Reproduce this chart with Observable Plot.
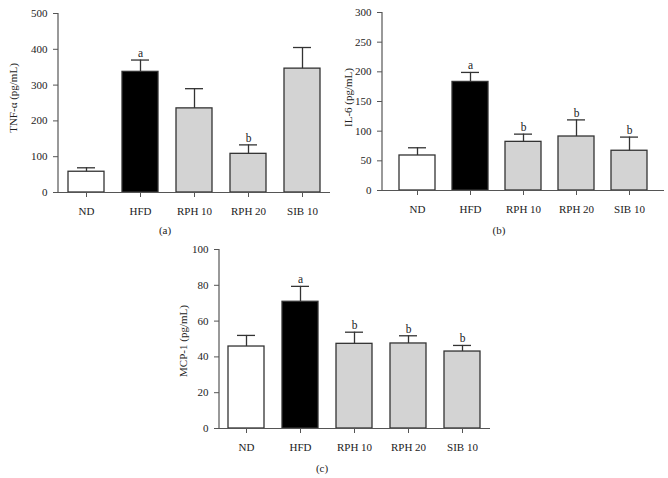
<!DOCTYPE html>
<html>
<head>
<meta charset="utf-8">
<script src="https://cdn.jsdelivr.net/npm/d3@7"></script>
<script src="https://cdn.jsdelivr.net/npm/@observablehq/plot@0.6"></script>
<style>
  body { margin: 0; background: #fff; }
  #wrap { position: relative; width: 668px; height: 478px; font-family: "Liberation Serif", "DejaVu Serif", serif; }
  .panel { position: absolute; }
  .cap { position: absolute; font-size: 11px; color: #222; transform: translate(-50%, -50%); white-space: nowrap; }
</style>
</head>
<body>
<div id="wrap"></div>
<script>
const categories = ["ND", "HFD", "RPH 10", "RPH 20", "SIB 10"];
const barColors = ["#ffffff", "#000000", "#d3d3d3", "#d3d3d3", "#d3d3d3"];

const tnfMean = [58, 337, 235, 108, 346];
const tnfSem = [11, 33, 55, 25, 59];
const tnfLetters = ["", "a", "", "b", ""];
const tnfTicks = [0, 100, 200, 300, 400, 500];

const il6Mean = [59, 183, 82, 91, 67];
const il6Sem = [13, 16, 13, 28, 23];
const il6Letters = ["", "a", "b", "b", "b"];
const il6Ticks = [0, 50, 100, 150, 200, 250, 300];

const mcpMean = [45.8, 70.8, 47.3, 47.5, 43.0];
const mcpSem = [6.2, 8.6, 6.5, 4.3, 3.4];
const mcpLetters = ["", "a", "b", "b", "b"];
const mcpTicks = [0, 20, 40, 60, 80, 100];

const ink = "#333333";
const axisInk = "#555555";

function panel({mean, sem, letters, ticks, label, marginLeft, marginTop, marginBottom, paddingOuter, labelDx, labelDy}) {
  const data = categories.map((c, i) => ({cat: c, mean: mean[i], top: mean[i] + sem[i], letter: letters[i], color: barColors[i]}));
  const yMax = ticks[ticks.length - 1];
  return Plot.plot({
    width: 334,
    height: 220,
    marginLeft, marginTop, marginBottom,
    marginRight: 4,
    style: {fontFamily: "Liberation Serif, DejaVu Serif, serif", fontSize: "11px", color: "#222", background: "transparent", overflow: "visible"},
    x: {domain: categories, paddingInner: 0.33, paddingOuter, label: null},
    y: {domain: [0, yMax], label: null},
    color: {type: "identity"},
    marks: [
      Plot.barY(data, {x: "cat", y: "mean", fill: "color", stroke: ink, strokeWidth: 1.3}),
      Plot.ruleX(data, {x: "cat", y1: "mean", y2: "top", stroke: ink, strokeWidth: 1.3}),
      Plot.tickY(data, {x: "cat", y: "top", insetLeft: 9, insetRight: 9, stroke: ink, strokeWidth: 1.3}),
      Plot.text(data, {x: "cat", y: "top", text: "letter", lineAnchor: "bottom", dy: -3, fontSize: 11.5, fill: "#222"}),
      Plot.ruleY([0], {stroke: axisInk, strokeWidth: 1.2}),
      (index, scales, values, dims) => {
        const x0 = dims.marginLeft;
        return d3.create("svg:line")
          .attr("x1", x0).attr("x2", x0)
          .attr("y1", dims.marginTop).attr("y2", dims.height - dims.marginBottom)
          .attr("stroke", axisInk).attr("stroke-width", 1.2).node();
      },
      Plot.axisX({tickSize: 5, tickPadding: 10, stroke: axisInk, fill: "#222", label: null}),
      Plot.axisY({ticks, tickSize: 5, tickPadding: 6, stroke: axisInk, fill: "#222", label: null}),
      Plot.text([label], {frameAnchor: "left", rotate: -90, dx: labelDx, dy: labelDy, textAnchor: "middle", lineAnchor: "middle", fontSize: 11, fill: "#222"})
    ]
  });
}

const wrap = document.getElementById("wrap");
function place(el, left, top) {
  const d = document.createElement("div");
  d.className = "panel";
  d.style.left = left + "px";
  d.style.top = top + "px";
  d.appendChild(el);
  wrap.appendChild(d);
}
function caption(text, x, y) {
  const d = document.createElement("div");
  d.className = "cap";
  d.style.left = x + "px";
  d.style.top = y + "px";
  d.textContent = text;
  wrap.appendChild(d);
}

place(panel({mean: tnfMean, sem: tnfSem, letters: tnfLetters, ticks: tnfTicks, label: "TNF-α (pg/mL)",
  marginLeft: 58, marginTop: 13, marginBottom: 28, paddingOuter: 0.17, labelDx: -45, labelDy: -5}), 0, 0);
place(panel({mean: il6Mean, sem: il6Sem, letters: il6Letters, ticks: il6Ticks, label: "IL-6 (pg/mL)",
  marginLeft: 48, marginTop: 12, marginBottom: 30, paddingOuter: 0.28, labelDx: -34, labelDy: -4}), 334, 0);
place(panel({mean: mcpMean, sem: mcpSem, letters: mcpLetters, ticks: mcpTicks, label: "MCP-1 (pg/mL)",
  marginLeft: 59, marginTop: 13, marginBottom: 28, paddingOuter: 0.17, labelDx: -36, labelDy: 2}), 160, 236);

caption("(a)", 165, 230);
caption("(b)", 499, 230);
caption("(c)", 322, 468);
</script>
</body>
</html>
